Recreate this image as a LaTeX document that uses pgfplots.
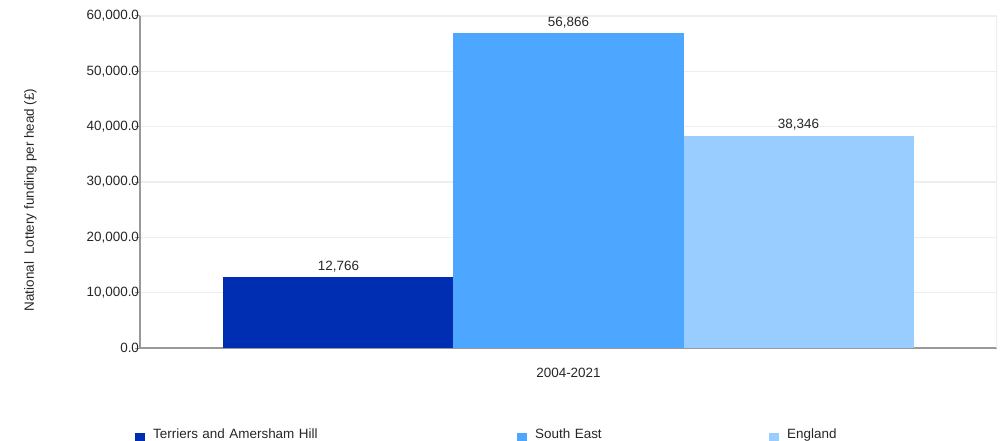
\documentclass[border=0pt]{standalone}
\usepackage{pgfplots}
\pgfplotsset{compat=1.18}
\usepackage{fontspec}
\setmainfont{Liberation Sans}
\definecolor{cA}{HTML}{002EB3}
\definecolor{cB}{HTML}{4DA6FF}
\definecolor{cC}{HTML}{99CCFF}
\definecolor{gridc}{HTML}{EEEEEE}
\definecolor{axc}{HTML}{999999}
\newcommand{\fs}{\fontsize{13.5}{16}\selectfont}
\begin{document}
\begin{tikzpicture}
\useasboundingbox (-140bp,-93bp) rectangle (861bp,348bp);
\begin{axis}[
  scale only axis,
  width=857bp, height=332bp,
  xmin=-0.5, xmax=0.5,
  ymin=0, ymax=60000,
  ytick={0,10000,20000,30000,40000,50000,60000},
  xtick={0},
  xticklabels={2004-2021},
  x tick label style={yshift=-12bp},
  major x tick style={draw=none},
  extra x ticks={-0.5,0.5},
  extra x tick labels={},
  extra x tick style={major tick length=6bp, tick style={draw=axc, line width=1.2bp}},
  tick align=outside,
  major tick length=5bp,
  tick style={draw=axc, line width=1bp},
  axis x line*=bottom,
  axis y line*=left,
  axis line style={draw=axc, line width=1.5bp, -},
  ymajorgrids,
  grid style={draw=gridc, line width=1.5bp},
  y tick label style={xshift=7.5bp},
  scaled y ticks=false,
  yticklabel style={/pgf/number format/.cd, fixed, fixed zerofill, precision=1, 1000 sep={,}, assume math mode=true},
  ticklabel style={font=\fs, text=black!85},
  ylabel={National\ \ Lottery funding per head (£)},
  every axis y label/.style={at={(axis description cs:-0.128,0.446)}, rotate=90, anchor=center, font=\fs, text=black!85},
  ybar=0pt,
  bar width=0.2684,
  nodes near coords,
  nodes near coords style={font=\fs, text=black!85, yshift=2bp, /pgf/number format/.cd, fixed, precision=0, 1000 sep={,}, assume math mode=true},
  legend columns=3,
  legend style={draw=none, fill=none, at={(axis description cs:0,0)}, anchor=north west, xshift=-8bp, yshift=-78bp,
    font=\fs, text=black!85,
    /tikz/every odd column/.style={column sep=7bp},
    /tikz/column 2/.style={text width=363bp},
    /tikz/column 4/.style={text width=233bp},
    /tikz/column 6/.style={text width=80bp},
    nodes={inner sep=1bp}},
  legend image code/.code={\fill[#1] (0bp,-8bp) rectangle (10bp,2bp);},
]
\draw[gridc, line width=1.5bp] (rel axis cs:1,0) -- (rel axis cs:1,1);
\addplot[fill=cA, draw=none] coordinates {(0,12766)};
\addlegendentry{Terriers and Amersham Hill}
\addplot[fill=cB, draw=none] coordinates {(0,56866)};
\addlegendentry{South East}
\addplot[fill=cC, draw=none] coordinates {(0,38346)};
\addlegendentry{England}
\end{axis}
\end{tikzpicture}
\end{document}
